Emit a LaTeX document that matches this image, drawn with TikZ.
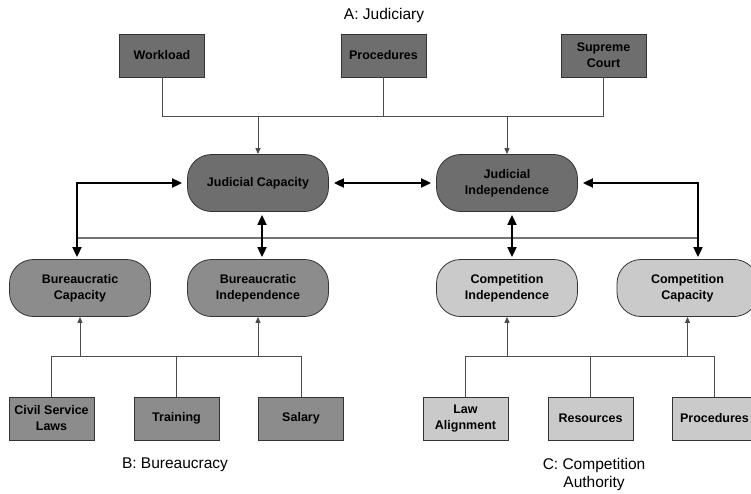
\documentclass[tikz,border=0pt]{standalone}
\usepackage{fontspec}
\setmainfont{Liberation Sans}
\usetikzlibrary{arrows.meta, positioning}

\definecolor{judgray}{HTML}{6E6E6E}
\definecolor{burgray}{HTML}{8C8C8C}
\definecolor{compgray}{HTML}{CACACA}

\tikzset{
  factor/.style={draw=black!80, line width=0.8pt, minimum width=85pt, minimum height=43pt,
                 inner sep=1pt, align=center, font=\fontsize{12.5}{16}\selectfont\bfseries},
  pillar/.style={draw=black!80, line width=0.8pt, rounded corners=24pt, minimum width=141pt,
                 minimum height=57pt, align=center, font=\fontsize{12.5}{16}\selectfont\bfseries},
  thinline/.style={draw=black!70, line width=0.9pt},
  thinarrow/.style={thinline, -{Triangle[length=6pt,width=5pt]}},
  thickarrow/.style={black, line width=1.8pt,
                     {Triangle[length=10pt,width=9pt]}-{Triangle[length=10pt,width=9pt]}},
  group/.style={align=center, font=\fontsize{15.5}{18}\selectfont}
}

\begin{document}
\begin{tikzpicture}[x=1pt, y=-1pt]
  \useasboundingbox (0,0) rectangle (751,493);

  % group labels
  \node[group] (labA) at (384,15) {A: Judiciary};
  \node[group] (labB) at (175,465) {B: Bureaucracy};
  \node[group] (labC) at (594,474) {C: Competition\\Authority};

  % judiciary factors
  \node[factor, fill=judgray] (workload) at (162,55.5) {Workload};
  \node[factor, fill=judgray] (procJ) at (383.5,55.5) {Procedures};
  \node[factor, fill=judgray] (supreme) at (603.5,55.5) {Supreme\\Court};

  % main pillars
  \node[pillar, fill=judgray] (jcap) at (258,183) {Judicial Capacity};
  \node[pillar, fill=judgray] (jind) at (507,183) {Judicial\\Independence};
  \node[pillar, fill=burgray] (bcap) at (80,288) {Bureaucratic\\Capacity};
  \node[pillar, fill=burgray] (bind) at (258,288) {Bureaucratic\\Independence};
  \node[pillar, fill=compgray] (cind) at (507,288) {Competition\\Independence};
  \node[pillar, fill=compgray] (ccap) at (687.5,288) {Competition\\Capacity};

  % bureaucracy and competition factors
  \node[factor, fill=burgray] (civil) at (51.5,418.5) {Civil Service\\Laws};
  \node[factor, fill=burgray] (training) at (176.5,418.5) {Training};
  \node[factor, fill=burgray] (salary) at (301,418.5) {Salary};
  \node[factor, fill=compgray] (lawalign) at (465.5,418.5) {Law\\Alignment};
  \node[factor, fill=compgray] (resources) at (590.5,418.5) {Resources};
  \node[factor, fill=compgray] (procC) at (714.5,418.5) {Procedures};

  % junction rows
  \coordinate (jbus) at (0,116);
  \coordinate (bbus) at (0,356);
  \coordinate (loopL) at (77,238);
  \coordinate (loopR) at (698,238);

  % judiciary inputs
  \draw[thinline] (workload.south) |- (supreme.south |- jbus) -- (supreme.south);
  \draw[thinline] (procJ.south) -- (procJ.south |- jbus);
  \draw[thinarrow] (jcap.north |- jbus) -- (jcap.north);
  \draw[thinarrow] (jind.north |- jbus) -- (jind.north);

  % bureaucracy inputs
  \draw[thinline] (civil.north) |- (salary.north |- bbus) -- (salary.north);
  \draw[thinline] (training.north) -- (training.north |- bbus);
  \draw[thinarrow] (bcap.south |- bbus) -- (bcap.south);
  \draw[thinarrow] (bind.south |- bbus) -- (bind.south);

  % competition inputs
  \draw[thinline] (lawalign.north) |- (procC.north |- bbus) -- (procC.north);
  \draw[thinline] (resources.north) -- (resources.north |- bbus);
  \draw[thinarrow] (cind.south |- bbus) -- (cind.south);
  \draw[thinarrow] (ccap.south |- bbus) -- (ccap.south);

  % links between pillars
  \draw[black!55, line width=1.3pt] (loopL) -- (loopR);
  \draw[thickarrow, shorten <=5pt, shorten >=5pt] (jcap.east) -- (jind.west);
  \draw[thickarrow, shorten <=5pt, shorten >=2pt] (jcap.west) -| (loopL |- bcap.north);
  \draw[thickarrow, shorten <=5pt, shorten >=2pt] (jind.east) -| (loopR |- ccap.north);
  \draw[thickarrow, shorten <=3pt, shorten >=2pt] ([xshift=4pt]jcap.south) -- ([xshift=4pt]bind.north);
  \draw[thickarrow, shorten <=3pt, shorten >=2pt] ([xshift=5pt]jind.south) -- ([xshift=5pt]cind.north);
\end{tikzpicture}
\end{document}
